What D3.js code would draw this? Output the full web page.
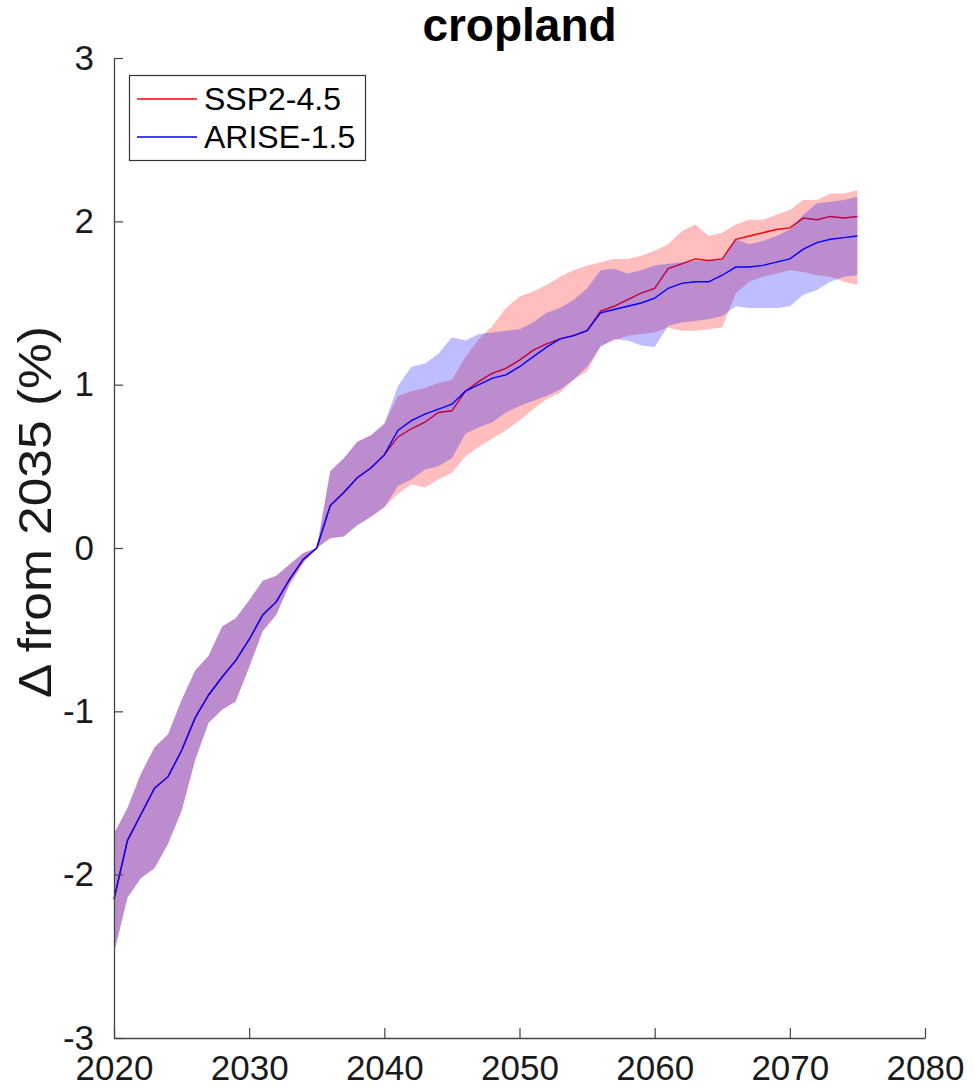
<!DOCTYPE html>
<html><head><meta charset="utf-8">
<script src="https://cdn.jsdelivr.net/npm/d3@7"></script>
<style>
body{margin:0;background:#fff;}
svg{display:block;font-family:"Liberation Sans",Arial,Helvetica,sans-serif;}
</style>
</head><body>
<svg id="chart" width="973" height="1088"></svg>
<script>
const years = [2020,2021,2022,2023,2024,2025,2026,2027,2028,2029,2030,2031,2032,2033,2034,2035,2036,2037,2038,2039,2040,
  2041,2042,2043,2044,2045,2046,2047,2048,2049,2050,2051,2052,2053,2054,2055,2056,2057,2058,2059,2060,
  2061,2062,2063,2064,2065,2066,2067,2068,2069,2070,2071,2072,2073,2074,2075];

const sspMean = [-2.15,-1.79,-1.63,-1.47,-1.40,-1.24,-1.04,-0.90,-0.79,-0.69,-0.56,-0.41,-0.33,-0.19,-0.07,0,0.26,0.34,0.43,0.49,0.57,
  0.68,0.73,0.77,0.83,0.84,0.96,1.02,1.07,1.10,1.15,1.21,1.25,1.28,1.30,1.33,1.45,1.48,1.52,1.56,1.59,
  1.71,1.74,1.77,1.76,1.77,1.89,1.91,1.93,1.95,1.96,2.02,2.01,2.03,2.02,2.03];
const sspUpper = [-1.75,-1.59,-1.38,-1.22,-1.14,-0.93,-0.75,-0.66,-0.48,-0.43,-0.32,-0.20,-0.17,-0.10,-0.03,0,0.47,0.55,0.65,0.69,0.76,
  0.93,0.96,0.98,1.01,1.03,1.17,1.28,1.36,1.47,1.54,1.57,1.61,1.66,1.70,1.73,1.75,1.77,1.77,1.79,1.82,
  1.86,1.94,1.98,1.91,1.93,1.98,2.01,2.01,2.04,2.07,2.13,2.13,2.17,2.17,2.19];
const sspLower = [-2.48,-2.14,-2.02,-1.96,-1.81,-1.61,-1.30,-1.07,-0.99,-0.94,-0.73,-0.51,-0.41,-0.22,-0.09,0,0.06,0.07,0.14,0.19,0.25,
  0.33,0.39,0.37,0.42,0.46,0.56,0.62,0.67,0.72,0.78,0.85,0.91,0.95,1.03,1.08,1.24,1.27,1.30,1.31,1.32,
  1.35,1.33,1.33,1.34,1.35,1.56,1.63,1.66,1.68,1.70,1.69,1.67,1.66,1.63,1.61];

const ariseMean = [-2.15,-1.79,-1.63,-1.47,-1.40,-1.24,-1.04,-0.90,-0.79,-0.69,-0.56,-0.41,-0.33,-0.19,-0.07,0,0.26,0.34,0.43,0.49,0.57,
  0.72,0.78,0.82,0.85,0.88,0.96,1.00,1.04,1.06,1.11,1.17,1.23,1.28,1.30,1.33,1.44,1.46,1.48,1.50,1.53,
  1.59,1.62,1.63,1.63,1.67,1.72,1.72,1.73,1.75,1.77,1.83,1.87,1.89,1.90,1.91];
const ariseUpper = [-1.75,-1.59,-1.38,-1.22,-1.14,-0.93,-0.75,-0.66,-0.48,-0.43,-0.32,-0.20,-0.17,-0.10,-0.03,0,0.47,0.55,0.65,0.69,0.76,
  0.99,1.11,1.13,1.19,1.29,1.27,1.31,1.32,1.33,1.34,1.38,1.44,1.47,1.52,1.59,1.70,1.71,1.68,1.70,1.73,
  1.74,1.75,1.76,1.76,1.77,1.89,1.86,1.88,1.91,1.95,2.04,2.11,2.12,2.13,2.15];
const ariseLower = [-2.48,-2.14,-2.02,-1.96,-1.81,-1.61,-1.30,-1.07,-0.99,-0.94,-0.73,-0.51,-0.41,-0.22,-0.09,0,0.06,0.07,0.14,0.19,0.25,
  0.38,0.42,0.48,0.50,0.55,0.70,0.74,0.77,0.83,0.87,0.90,0.93,0.97,1.03,1.11,1.23,1.28,1.27,1.24,1.23,
  1.36,1.38,1.39,1.40,1.42,1.48,1.47,1.47,1.47,1.48,1.55,1.58,1.63,1.66,1.67];

const xTicks = [2020,2030,2040,2050,2060,2070,2080];
const yTicks = [-3,-2,-1,0,1,2,3];
const seriesNames = ["SSP2-4.5","ARISE-1.5"];
const seriesColors = ["#ff0000","#0000ff"];
const titleText = "cropland";
const yLabelText = "\u0394 from 2035 (%)";

const svg = d3.select("#chart");
const pLeft = 114, pRight = 925, pTop = 58, pBottom = 1038;
const x = d3.scaleLinear().domain([2020,2080]).range([pLeft,pRight]);
const y = d3.scaleLinear().domain([-3,3]).range([pBottom,pTop]);

const series = [
  {mean: sspMean, upper: sspUpper, lower: sspLower, color: seriesColors[0]},
  {mean: ariseMean, upper: ariseUpper, lower: ariseLower, color: seriesColors[1]}
];

const area = d3.area().x(d => x(d.year)).y0(d => y(d.lo)).y1(d => y(d.hi));
const line = d3.line().x(d => x(d.year)).y(d => y(d.v));

const plot = svg.append("g");
series.forEach(s => {
  const rows = years.map((yr,i) => ({year: yr, lo: s.lower[i], hi: s.upper[i], v: s.mean[i]}));
  plot.append("path").datum(rows).attr("d", area)
    .attr("fill", s.color).attr("fill-opacity", 0.26).attr("stroke", "none");
  plot.append("path").datum(rows).attr("d", line)
    .attr("fill", "none").attr("stroke", s.color).attr("stroke-width", 1.4);
});

// axes (MATLAB style: inward ticks, no box)
const axisColor = "#444";
const fmt = d => String(d);
const xAxis = d3.axisBottom(x).tickValues(xTicks).tickFormat(fmt).tickSizeInner(-10).tickSizeOuter(0).tickPadding(17);
const gx = svg.append("g").attr("transform", `translate(0,${pBottom})`).call(xAxis);
gx.select(".domain").attr("stroke", axisColor).attr("stroke-width", 1.3);
gx.selectAll(".tick line").attr("stroke", axisColor).attr("stroke-width", 1.2);
gx.selectAll(".tick text").attr("fill", "#1a1a1a").attr("font-size", 35)
  .attr("font-family", '"Liberation Sans",Arial,sans-serif').attr("dy", "0.71em");

const yAxis = d3.axisLeft(y).tickValues(yTicks).tickFormat(fmt).tickSizeInner(-9).tickSizeOuter(0).tickPadding(20);
const gy = svg.append("g").attr("transform", `translate(${pLeft},0)`).call(yAxis);
gy.select(".domain").attr("stroke", axisColor).attr("stroke-width", 1.3);
gy.selectAll(".tick line").attr("stroke", axisColor).attr("stroke-width", 1.2);
gy.selectAll(".tick text").attr("fill", "#1a1a1a").attr("font-size", 35)
  .attr("font-family", '"Liberation Sans",Arial,sans-serif');

// title
svg.append("text").attr("x", (pLeft+pRight)/2).attr("y", 41).attr("text-anchor", "middle")
  .attr("font-size", 46).attr("font-weight", "bold").attr("fill", "#000").text(titleText);

// y label
svg.append("text").attr("transform", "translate(51,512) rotate(-90)").attr("text-anchor", "middle")
  .attr("font-size", 46).attr("fill", "#1a1a1a")
  .attr("textLength", 372).attr("lengthAdjust", "spacingAndGlyphs").text(yLabelText);

// legend
const lg = svg.append("g");
lg.append("rect").attr("x", 129.5).attr("y", 75.5).attr("width", 236).attr("height", 85)
  .attr("fill", "#fff").attr("stroke", "#333").attr("stroke-width", 1.2);
seriesNames.forEach((name, i) => {
  const cy = 99 + i*38;
  lg.append("line").attr("x1", 137).attr("x2", 197).attr("y1", cy).attr("y2", cy)
    .attr("stroke", seriesColors[i]).attr("stroke-width", 1.3);
  lg.append("text").attr("x", 204).attr("y", cy + 11).attr("font-size", 32).attr("fill", "#000").text(name);
});
</script>
</body></html>
